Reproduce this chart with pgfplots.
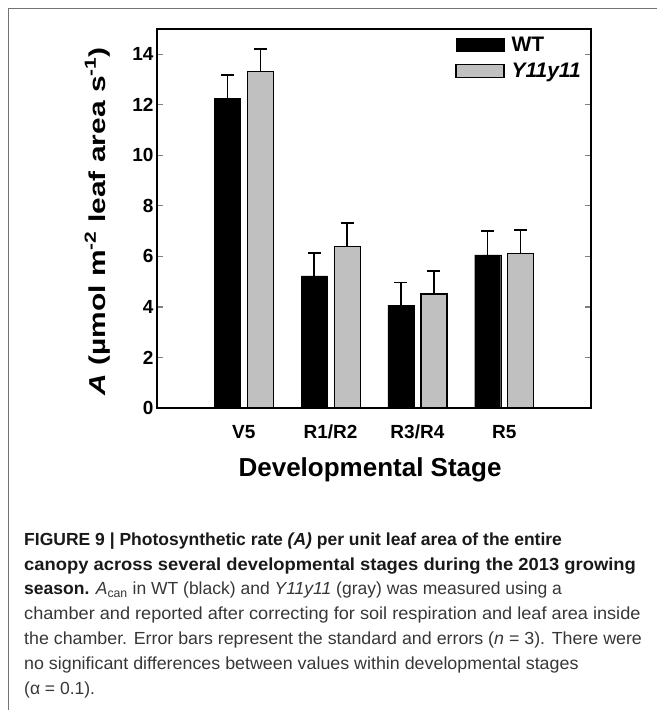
\documentclass[border=0pt]{standalone}
\usepackage{fontspec}
\setmainfont{Liberation Sans}
\usepackage{graphicx}
\usepackage{pgfplots}
\pgfplotsset{compat=1.18}
\definecolor{barg}{RGB}{192,192,192}
\definecolor{captxt}{RGB}{55,55,55}
\definecolor{capbold}{RGB}{25,25,25}

\begin{document}
\begin{tikzpicture}
\path[use as bounding box] (0,0) rectangle (657pt,-710pt);
\draw[black!55, line width=1pt] (657pt,-8.5pt) -- (8.5pt,-8.5pt) -- (8.5pt,-710pt);

\begin{axis}[
  at={(157pt,-408pt)}, anchor=south west,
  scale only axis, width=434pt, height=379pt,
  ybar, bar width=26pt,
  xmin=0, xmax=5, ymin=0, ymax=15,
  axis line style={line width=1.3pt},
  xtick={1,2,3,4},
  xticklabels={V5,R1/R2,R3/R4,R5},
  x tick style={draw=none},
  ytick={0,2,...,14},
  ytick pos=both,
  tick align=inside,
  major tick length=6pt,
  y tick style={line width=1.2pt},
  tick label style={font=\fontsize{19}{19}\selectfont\bfseries,
    /pgf/number format/assume math mode=true},
  xticklabel style={anchor=base, yshift=-30pt},
  yticklabel style={xshift=0pt},
  xlabel={Developmental Stage},
  ylabel={\scalebox{1.3}[1]{\textit{A} (µmol m\textsuperscript{-2} leaf area s\textsuperscript{-1})}},
  label style={font=\fontsize{23}{27}\selectfont\bfseries},
  xlabel style={font=\fontsize{26}{30}\selectfont\bfseries,
    at={(axis description cs:0.491,-0.181)}, anchor=base},
  ylabel style={at={(axis description cs:-0.1198,0.493)}, anchor=base},
  legend style={at={(rel axis cs:0.68,0.99)}, anchor=north west, draw=none, fill=none,
    font=\fontsize{21}{21}\selectfont\bfseries, row sep=6pt},
  legend cell align=left,
  legend image code/.code={\draw[#1] (0pt,-6.5pt) rectangle (48pt,6.5pt); \path (53pt,0pt);},
]
\addplot[bar shift=-16.5pt, fill=black, draw=black,
  error bars/.cd, y dir=plus, y explicit,
  error bar style={line width=1.5pt, black},
  error mark options={rotate=90, mark size=6.5pt, line width=1.5pt, black}]
  coordinates {(1,12.26) +- (0,0.91) (2,5.23) +- (0,0.90) (3,4.07) +- (0,0.90) (4,6.06) +- (0,0.94)};
\addlegendentry{WT}
\addplot[bar shift=16.5pt, fill=barg, draw=black, line width=1.2pt,
  error bars/.cd, y dir=plus, y explicit,
  error bar style={line width=1.5pt, black},
  error mark options={rotate=90, mark size=6.5pt, line width=1.5pt, black}]
  coordinates {(1,13.31) +- (0,0.90) (2,6.39) +- (0,0.94) (3,4.51) +- (0,0.91) (4,6.10) +- (0,0.94)};
\addlegendentry{\textit{Y11y11}}
\end{axis}

\begin{scope}[every node/.style={anchor=base west, inner sep=0pt, text=captxt,
    font=\fontsize{17.5}{25}\selectfont}]
\node at (24pt,-545pt) {\textbf{\color{capbold}FIGURE 9 | Photosynthetic rate \textit{(A)} per unit leaf area of the entire}};
\node at (24pt,-570pt) {\scalebox{1.05}[1]{\textbf{\color{capbold}canopy across several developmental stages during the 2013 growing}}};
\node at (24pt,-594.5pt) {\textbf{\color{capbold}season.} \textit{A}\textsubscript{can} in WT (black) and \textit{Y11y11} (gray) was measured using a};
\node at (24pt,-619.5pt) {\scalebox{1.037}[1]{chamber and reported after correcting for soil respiration and leaf area inside}};
\node at (24pt,-644.5pt) {\scalebox{1.018}[1]{the chamber. Error bars represent the standard and errors (\textit{n} = 3). There were}};
\node at (24pt,-669.5pt) {\scalebox{1.02}[1]{no significant differences between values within developmental stages}};
\node at (24pt,-694.5pt) {(α = 0.1).};
\end{scope}
\end{tikzpicture}
\end{document}
